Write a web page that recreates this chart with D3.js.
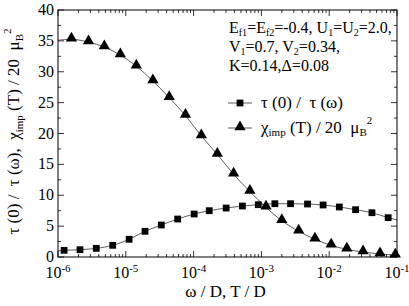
<!DOCTYPE html>
<html>
<head>
<meta charset="utf-8">
<script src="https://cdn.jsdelivr.net/npm/d3@7"></script>
<style>
  body { margin: 0; background: #fff; }
  svg, svg text { font-family: "Liberation Serif", "DejaVu Serif", "Times New Roman", serif; }
  svg text { white-space: pre; }
</style>
</head>
<body>
<svg width="409" height="306"></svg>
<script>
var svg = d3.select("svg"),
    margin = {left: 58, right: 12, top: 10, bottom: 49},
    width = 409 - margin.left - margin.right,
    height = 306 - margin.top - margin.bottom;

// triangles: chi_imp(T) / 20 muB^2
var triX = [1.58e-6, 2.82e-6, 4.82e-6, 8.3e-6, 1.43e-5, 2.51e-5, 4.37e-5, 7.59e-5, 1.3e-4, 2.24e-4,
            3.89e-4, 6.76e-4, 1.17e-3, 2.0e-3, 3.55e-3, 6.17e-3, 1.07e-2, 1.82e-2, 3.16e-2, 5.62e-2, 9.44e-2];
var triY = [35.25, 34.8, 34.0, 32.7, 30.9, 28.5, 25.8, 22.9, 19.6, 16.6,
            13.4, 10.6, 8.04, 5.88, 4.16, 2.87, 1.89, 1.24, 0.81, 0.49, 0.27];
// squares: tau(0)/tau(omega)
var sqX = [1.23e-6, 2.11e-6, 3.67e-6, 6.41e-6, 1.12e-5, 1.92e-5, 3.34e-5, 5.82e-5, 1.02e-4, 1.70e-4,
           3.02e-4, 5.25e-4, 9.0e-4, 1.58e-3, 2.69e-3, 4.79e-3, 8.13e-3, 1.41e-2, 2.45e-2, 4.27e-2, 7.41e-2];
var sqY = [1.08, 1.18, 1.4, 1.89, 2.87, 4.16, 5.18, 6.15, 6.96, 7.5,
           7.93, 8.26, 8.47, 8.63, 8.63, 8.58, 8.42, 8.1, 7.66, 7.17, 6.37];
// where the curves meet the frame
var triEnds = [[1e-6, 35.1], [0.1, 0.2]];
var sqEnds = [[1e-6, 1.0], [0.1, 6.0]];

var xTicks = [1e-6, 1e-5, 1e-4, 1e-3, 1e-2, 1e-1];
var xExp = ["-6", "-5", "-4", "-3", "-2", "-1"];
var yTicks = [0, 5, 10, 15, 20, 25, 30, 35, 40];

var x = d3.scaleLog().domain([1e-6, 0.1]).range([0, width]);
var y = d3.scaleLinear().domain([0, 40]).range([height, 0]);

var g = svg.append("g").attr("transform", `translate(${margin.left},${margin.top})`);

// minor log ticks
var minor = [];
xTicks.slice(0, -1).forEach(function(t) {
  for (var k = 2; k < 10; k++) minor.push(t * k);
});
var yMinor = d3.range(2.5, 40, 5);

function tickLines(sel, data, len, side) {
  sel.selectAll(null).data(data).join("line")
    .attr("stroke", "#000").attr("stroke-width", 0.8)
    .each(function(d) {
      var s = d3.select(this);
      if (side == "bottom") s.attr("x1", x(d)).attr("x2", x(d)).attr("y1", height).attr("y2", height - len);
      if (side == "top") s.attr("x1", x(d)).attr("x2", x(d)).attr("y1", 0).attr("y2", len);
      if (side == "left") s.attr("y1", y(d)).attr("y2", y(d)).attr("x1", 0).attr("x2", len);
      if (side == "right") s.attr("y1", y(d)).attr("y2", y(d)).attr("x1", width).attr("x2", width - len);
    });
}
var tg = g.append("g");
tickLines(tg, xTicks, 6, "bottom");
tickLines(tg, minor, 3, "bottom");
tickLines(tg, xTicks, 6, "top");
tickLines(tg, minor, 3, "top");
tickLines(tg, yTicks, 6, "left");
tickLines(tg, yMinor, 3, "left");
tickLines(tg, yTicks, 6, "right");
tickLines(tg, yMinor, 3, "right");

// y labels
g.append("g").selectAll("text").data(yTicks).join("text")
  .attr("x", -4).attr("y", d => y(d) + 5)
  .attr("text-anchor", "end").attr("font-size", 16)
  .text(d => d);

// x labels
var xl = g.append("g").selectAll("text").data(xTicks).join("text")
  .attr("x", d => x(d)).attr("y", height + 21)
  .attr("text-anchor", "middle").attr("font-size", 16);
xl.append("tspan").text("10");
xl.append("tspan").attr("font-size", 11).attr("dy", -6).text((d, i) => xExp[i]);

// axis titles
g.append("text").attr("x", width / 2 - 2).attr("y", height + 40)
  .attr("text-anchor", "middle").attr("font-size", 17)
  .text("ω / D, T / D");

var yt = svg.append("text")
  .attr("transform", `translate(19,${margin.top + height / 2 - 2}) rotate(-90)`)
  .attr("text-anchor", "middle").attr("font-size", 17);
yt.append("tspan").text("τ (0) /  τ (ω),  χ");
yt.append("tspan").attr("font-size", 11).attr("dy", 4).text("imp");
yt.append("tspan").attr("dy", -4).text(" (T) / 20  μ");
yt.append("tspan").attr("font-size", 11).attr("dy", 4).text("B");
yt.append("tspan").attr("font-size", 11).attr("dy", -12).text("2");

// curves
var line = d3.line().x(d => x(d[0])).y(d => y(d[1])).curve(d3.curveMonotoneX);
var triPts = [triEnds[0]].concat(triX.map((v, i) => [v, triY[i]]), [triEnds[1]]);
var sqPts = [sqEnds[0]].concat(sqX.map((v, i) => [v, sqY[i]]), [sqEnds[1]]);
g.append("path").attr("d", line(sqPts)).attr("fill", "none").attr("stroke", "#333").attr("stroke-width", 0.8);
g.append("path").attr("d", line(triPts)).attr("fill", "none").attr("stroke", "#333").attr("stroke-width", 0.8);

var sqSym = d3.symbol().type(d3.symbolSquare).size(46);
var triSym = d3.symbol().type(d3.symbolTriangle).size(55);
g.append("g").selectAll("path").data(sqX).join("path")
  .attr("d", sqSym).attr("transform", (d, i) => `translate(${x(d)},${y(sqY[i])})`);
g.append("g").selectAll("path").data(triX).join("path")
  .attr("d", triSym).attr("transform", (d, i) => `translate(${x(d)},${y(triY[i]) - 1})`);

// frame
g.append("rect").attr("width", width).attr("height", height)
  .attr("fill", "none").attr("stroke", "#000").attr("stroke-width", 1);

// parameter text
var pt = svg.append("g").attr("font-size", 16);
var l1 = pt.append("text").attr("x", 229).attr("y", 33);
l1.append("tspan").text("E");
l1.append("tspan").attr("font-size", 10).attr("dy", 3).text("f1");
l1.append("tspan").attr("dy", -3).text("=E");
l1.append("tspan").attr("font-size", 10).attr("dy", 3).text("f2");
l1.append("tspan").attr("dy", -3).text("=-0.4, U");
l1.append("tspan").attr("font-size", 10).attr("dy", 3).text("1");
l1.append("tspan").attr("dy", -3).text("=U");
l1.append("tspan").attr("font-size", 10).attr("dy", 3).text("2");
l1.append("tspan").attr("dy", -3).text("=2.0,");
var l2 = pt.append("text").attr("x", 229).attr("y", 52);
l2.append("tspan").text("V");
l2.append("tspan").attr("font-size", 10).attr("dy", 3).text("1");
l2.append("tspan").attr("dy", -3).text("=0.7, V");
l2.append("tspan").attr("font-size", 10).attr("dy", 3).text("2");
l2.append("tspan").attr("dy", -3).text("=0.34,");
pt.append("text").attr("x", 229).attr("y", 71).text("K=0.14,Δ=0.08");

// legend
var leg = svg.append("g").attr("font-size", 17);
var ly = [103, 128];
leg.selectAll("line").data(ly).join("line")
  .attr("x1", 228).attr("x2", 252).attr("y1", d => d).attr("y2", d => d)
  .attr("stroke", "#333").attr("stroke-width", 0.8);
leg.append("path").attr("d", sqSym).attr("transform", `translate(240,${ly[0]})`);
leg.append("path").attr("d", triSym).attr("transform", `translate(240,${ly[1] - 1})`);
leg.append("text").attr("x", 261).attr("y", ly[0] + 5).text("τ (0) /  τ (ω)");
var lt = leg.append("text").attr("x", 261).attr("y", ly[1] + 5);
lt.append("tspan").text("χ");
lt.append("tspan").attr("font-size", 11).attr("dy", 3).text("imp");
lt.append("tspan").attr("dy", -3).text(" (T) / 20  μ");
lt.append("tspan").attr("font-size", 11).attr("dy", 3).text("B");
lt.append("tspan").attr("font-size", 11).attr("dy", -12).text("2");
</script>
</body>
</html>
